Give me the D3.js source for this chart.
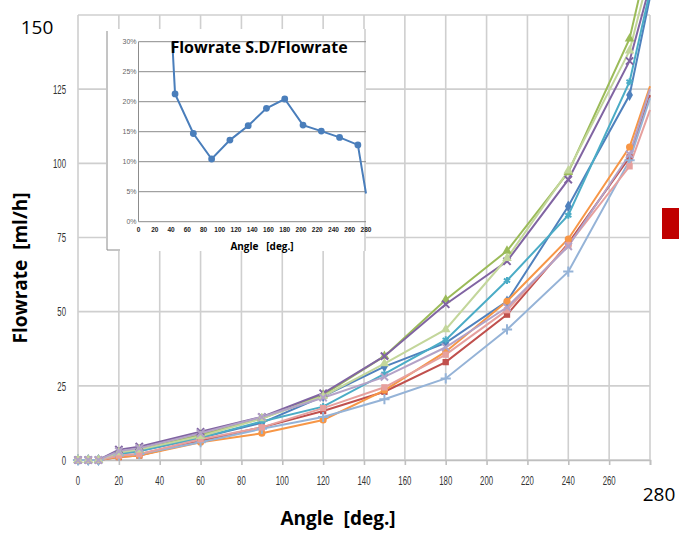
<!DOCTYPE html>
<html lang="en">
<head>
<meta charset="utf-8">
<title>Flowrate vs Angle</title>
<script src="https://d3js.org/d3.v7.min.js"></script>
<style>
  body { margin: 0; background: #fff; }
  svg { display: block; }
  .tick-small { font-family: "Liberation Sans", Arial, sans-serif; font-size: 13px; fill: #333; }
  .big-label { font-family: "Open Sans", sans-serif; font-size: 19px; fill: #000; }
  .axis-title { font-family: "Open Sans", sans-serif; font-size: 19px; font-weight: bold; fill: #000; white-space: pre; }
</style>
</head>
<body>
<div id="chart"></div>
<script>
// angles measured (deg.)
var angles = [0, 5, 10, 20, 30, 60, 90, 120, 150, 180, 210, 240, 270, 280];

// flowrate per run (ml/h)
var blueRun      = [0, 0, 0, 2, 3, 7.5, 12.5, 21.5, 31.5, 39.5, 53.5, 85.5, 123, 156];
var redRun       = [0, 0, 0, 1, 1.5, 6.5, 11, 16.5, 23, 33, 49, 73, 102, 123];
var greenRun     = [0, 0, 0, 2.5, 3.5, 8.5, 14, 22, 35, 54, 70.5, 97, 142, 172];
var purpleRun    = [0, 0, 0, 3.5, 4.5, 9.5, 14.5, 22.5, 35, 52.5, 67, 94.5, 134.5, 160];
var tealRun      = [0, 0, 0, 2, 3, 7.5, 13, 18, 29, 40.5, 60.5, 82.5, 127.5, 158];
var orangeRun    = [0, 0, 0, 1, 1.5, 6, 9, 13.5, 23.5, 36.5, 53.5, 74.5, 105.5, 126];
var lightBlueRun = [0, 0, 0, 1.5, 2, 6, 10.5, 14.5, 20.5, 27.5, 44, 63.5, 101, 122];
var pinkRun      = [0, 0, 0, 1.5, 2, 7, 11, 17.5, 24.5, 35.5, 50.5, 72.5, 99, 118];
var lightGreenRun  = [0, 0, 0, 2.5, 3.5, 8, 14, 21.5, 32.5, 44, 68, 97.5, 138, 165];
var lightPurpleRun = [0, 0, 0, 3, 4, 9, 14.5, 21, 28, 38, 51.5, 72, 103, 125];

var runs = [blueRun, redRun, greenRun, purpleRun, tealRun, orangeRun,
            lightBlueRun, pinkRun, lightGreenRun, lightPurpleRun];
var runColors = ["#4f81bd", "#c0504d", "#9bbb59", "#8064a2", "#4bacc6", "#f79646",
                 "#95b3d7", "#e6a09e", "#c3d69b", "#b3a2c7"];
var runShapes = ["diamond", "square", "triangle", "times", "asterisk", "circle",
                 "plus", "square", "triangle", "times"];

var xTicks = [0, 20, 40, 60, 80, 100, 120, 140, 160, 180, 200, 220, 240, 260];
var yTicks = [0, 25, 50, 75, 100, 125];

// inset: S.D / flowrate
var insetAngles = [40, 45, 67.5, 90, 112.5, 135, 157.5, 180, 202.5, 225, 247.5, 270, 280];
var insetRatio  = [34, 21.3, 14.7, 10.45, 13.6, 16, 18.9, 20.45, 16.1, 15.1, 14.05, 12.8, 4.7];
var insetXTicks = [0, 20, 40, 60, 80, 100, 120, 140, 160, 180, 200, 220, 240, 260, 280];
var insetYTicks = [0, 5, 10, 15, 20, 25, 30];

var width = 679, height = 541;
var svg = d3.select("#chart").append("svg")
    .attr("width", width)
    .attr("height", height);

var x = d3.scaleLinear().domain([0, 280]).range([78, 650]);
var y = d3.scaleLinear().domain([0, 150]).range([460, 15]);

// grid
var grid = svg.append("g").attr("stroke", "#cfcfcf").attr("stroke-width", 1.6);
grid.selectAll(".vg").data(xTicks.concat([280])).enter().append("line")
    .attr("x1", d => x(d)).attr("x2", d => x(d))
    .attr("y1", y(150)).attr("y2", y(0));
grid.selectAll(".hg").data(yTicks.concat([150])).enter().append("line")
    .attr("x1", x(0)).attr("x2", x(280))
    .attr("y1", d => y(d)).attr("y2", d => y(d));

// bottom axis
var xAxis = svg.append("g")
    .attr("transform", "translate(0," + y(0) + ")")
    .call(d3.axisBottom(x).tickValues(xTicks.concat([280])).tickSize(5).tickFormat(""));
xAxis.select(".domain").attr("stroke", "#bfbfbf").attr("stroke-width", 1.6);
xAxis.selectAll(".tick line").attr("stroke", "#bfbfbf").attr("stroke-width", 1.6);

// condensed tick labels
svg.selectAll(".xl").data(xTicks).enter().append("text")
    .attr("class", "tick-small")
    .attr("text-anchor", "middle")
    .attr("transform", d => "translate(" + x(d) + ",485) scale(0.6,1)")
    .text(d => d);
svg.selectAll(".yl").data(yTicks).enter().append("text")
    .attr("class", "tick-small")
    .attr("text-anchor", "end")
    .attr("transform", d => "translate(66," + (y(d) + 4.7) + ") scale(0.6,1)")
    .text(d => d);

// series
var line = d3.line().x((d, i) => x(angles[i])).y(d => y(d));
var symbolTypes = {
  diamond: d3.symbolDiamond, square: d3.symbolSquare, triangle: d3.symbolTriangle,
  times: d3.symbolTimes, asterisk: d3.symbolAsterisk, circle: d3.symbolCircle, plus: d3.symbolPlus
};
var strokeShapes = ["times", "asterisk", "plus"];

runs.forEach(function(vals, k) {
  svg.append("path")
      .datum(vals)
      .attr("fill", "none")
      .attr("stroke", runColors[k])
      .attr("stroke-width", 2)
      .attr("d", line);
});
runs.forEach(function(vals, k) {
  var shape = runShapes[k];
  var isStroke = strokeShapes.indexOf(shape) >= 0;
  // the last reading sits on the plot edge and carries no marker
  var pts = vals.map((v, i) => [angles[i], v]).slice(0, -1);
  svg.selectAll(".m" + k).data(pts).enter().append("path")
      .attr("transform", d => "translate(" + x(d[0]) + "," + y(d[1]) + ")")
      .attr("d", d3.symbol().type(symbolTypes[shape]).size(isStroke ? 36 : 40))
      .attr("fill", isStroke ? "none" : runColors[k])
      .attr("stroke", isStroke ? runColors[k] : "none")
      .attr("stroke-width", 2);
});

// inset chart
var inset = svg.append("g");
inset.append("rect")
    .attr("x", 106).attr("y", 29).attr("width", 260).attr("height", 222)
    .attr("fill", "#fff");
inset.append("line").attr("x1", 107).attr("x2", 107).attr("y1", 31).attr("y2", 250)
    .attr("stroke", "#8a8a8a").attr("stroke-width", 1);
inset.append("line").attr("x1", 107).attr("x2", 120).attr("y1", 250).attr("y2", 250)
    .attr("stroke", "#8a8a8a").attr("stroke-width", 1);
inset.append("line").attr("x1", 365).attr("x2", 365).attr("y1", 29).attr("y2", 251)
    .attr("stroke", "#cfcfcf").attr("stroke-width", 1.6);

var ix = d3.scaleLinear().domain([0, 280]).range([138.5, 366]);
var iy = d3.scaleLinear().domain([0, 30]).range([221.7, 41.7]);

inset.selectAll(".ig").data(insetYTicks).enter().append("line")
    .attr("x1", ix(0)).attr("x2", ix(280))
    .attr("y1", d => iy(d)).attr("y2", d => iy(d))
    .attr("stroke", "#8c8c8c").attr("stroke-width", 1);
inset.append("line")
    .attr("x1", ix(0)).attr("x2", ix(0)).attr("y1", iy(0)).attr("y2", iy(30))
    .attr("stroke", "#8c8c8c");

inset.selectAll(".iyl").data(insetYTicks).enter().append("text")
    .attr("x", ix(0) - 2).attr("y", d => iy(d) + 2.5)
    .attr("text-anchor", "end")
    .style("font-family", "Liberation Sans, Arial, sans-serif")
    .style("font-size", "7px")
    .style("fill", "#666")
    .text(d => d + "%");
inset.selectAll(".ixl").data(insetXTicks).enter().append("text")
    .attr("x", d => ix(d)).attr("y", 232)
    .attr("text-anchor", "middle")
    .style("font-family", "Liberation Sans, Arial, sans-serif")
    .style("font-size", "6.5px")
    .style("font-weight", "bold")
    .style("fill", "#222")
    .text(d => d);

svg.append("clipPath").attr("id", "insetClip")
  .append("rect")
    .attr("x", ix(0)).attr("y", iy(30))
    .attr("width", ix(280) - ix(0) + 2).attr("height", iy(0) - iy(30));

var iline = d3.line().x((d, i) => ix(insetAngles[i])).y(d => iy(d));
var plot = inset.append("g").attr("clip-path", "url(#insetClip)");
plot.append("path")
    .datum(insetRatio)
    .attr("fill", "none")
    .attr("stroke", "#4a7ebb")
    .attr("stroke-width", 2)
    .attr("d", iline);
plot.selectAll(".ipt").data(insetRatio.map((v, i) => [insetAngles[i], v]).filter(d => d[1] <= 30 && d[0] <= 270))
  .enter().append("circle")
    .attr("cx", d => ix(d[0])).attr("cy", d => iy(d[1]))
    .attr("r", 3.4)
    .attr("fill", "#4a7ebb");

inset.append("text")
    .attr("x", 259).attr("y", 53)
    .attr("text-anchor", "middle")
    .style("font-family", "Open Sans, sans-serif")
    .style("font-size", "16px")
    .style("font-weight", "bold")
    .text("Flowrate S.D/Flowrate");
inset.append("text")
    .attr("x", 262).attr("y", 250)
    .attr("text-anchor", "middle")
    .style("font-family", "Open Sans, sans-serif")
    .style("font-size", "10px")
    .style("font-weight", "bold")
    .style("white-space", "pre")
    .text("Angle   [deg.]");

// big end labels
svg.append("text").attr("class", "big-label")
    .attr("x", 37).attr("y", 34).attr("text-anchor", "middle").text("150");
svg.append("text").attr("class", "big-label")
    .attr("x", 659).attr("y", 501).attr("text-anchor", "middle").text("280");

// axis titles
svg.append("text").attr("class", "axis-title")
    .attr("x", 338).attr("y", 525).attr("text-anchor", "middle")
    .text("Angle  [deg.]");
svg.append("text").attr("class", "axis-title")
    .attr("transform", "translate(27,268) rotate(-90)")
    .attr("text-anchor", "middle")
    .text("Flowrate  [ml/h]");

// red marker at right edge
svg.append("rect")
    .attr("x", 662).attr("y", 208).attr("width", 20).attr("height", 31)
    .attr("fill", "#c00000");
</script>
</body>
</html>
